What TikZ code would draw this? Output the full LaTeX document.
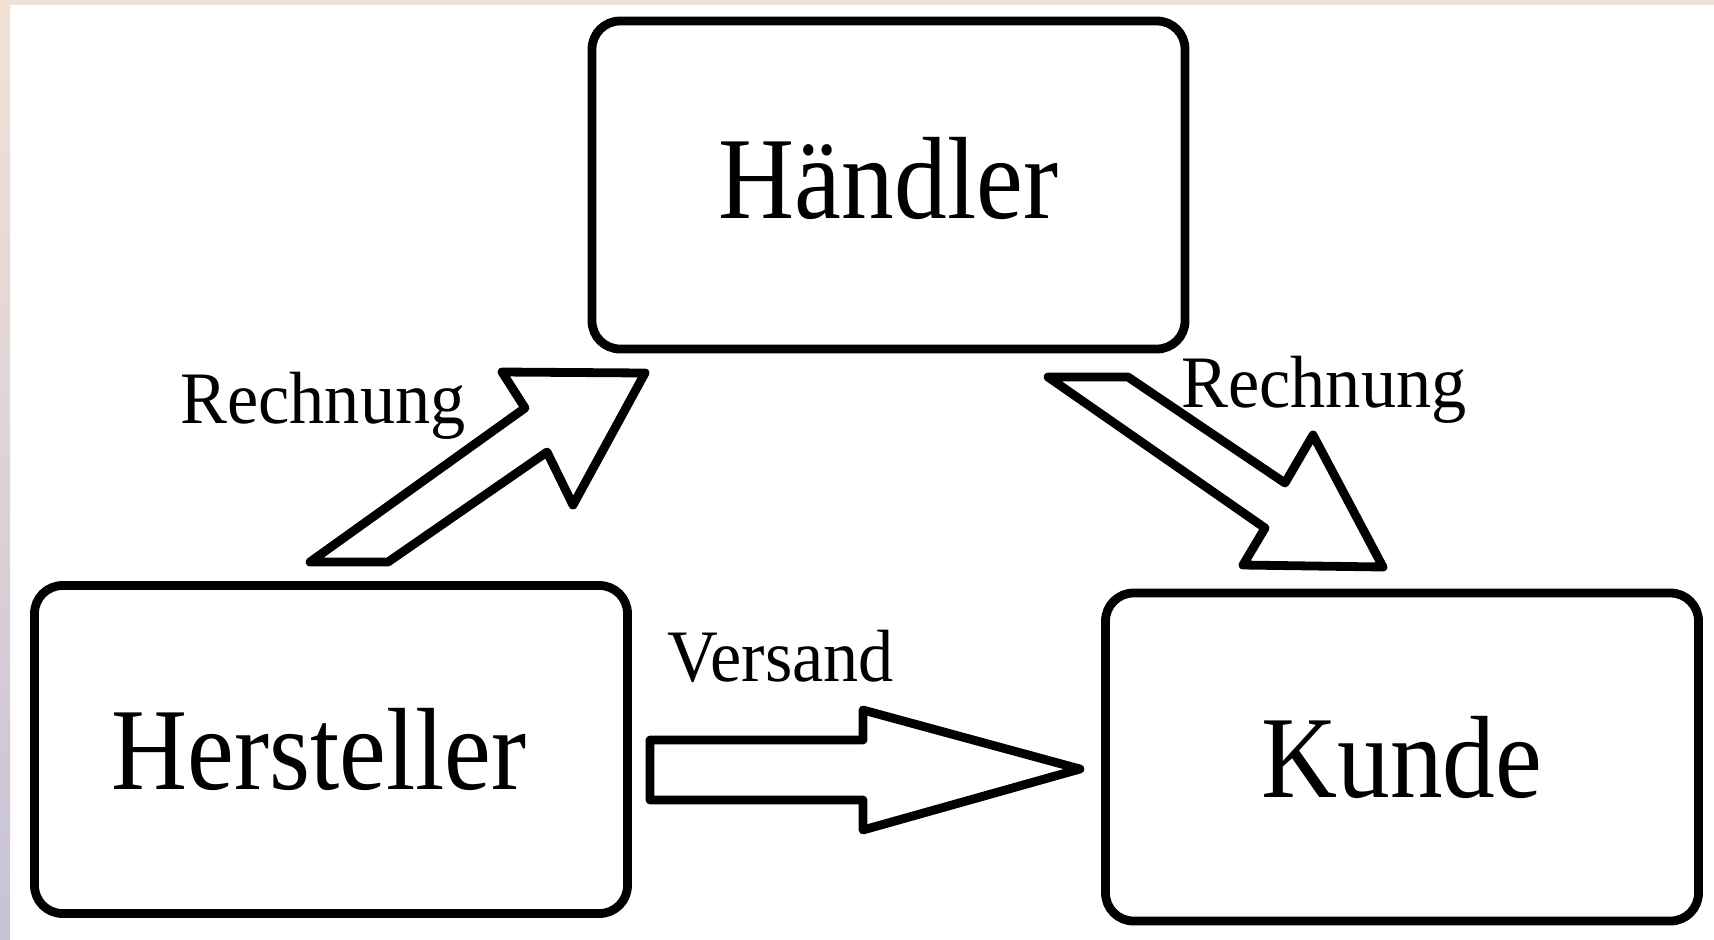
\documentclass[tikz,border=0pt]{standalone}
\usepackage{fontspec}
\setmainfont{Liberation Serif}
\newfontfamily\boxfont[FakeStretch=0.9]{Liberation Serif}
\newfontfamily\labelfont[FakeStretch=0.95]{Liberation Serif}
\definecolor{edgetop}{RGB}{242,226,214}
\definecolor{edgemid}{RGB}{226,206,198}
\definecolor{edgebot}{RGB}{200,194,214}
\tikzset{
  partybox/.style={draw, line width=4.4pt, rounded corners=14pt, minimum width=296.5pt,
    minimum height=164pt, inner sep=0pt, font=\boxfont\fontsize{58.5}{60}\selectfont},
  blockarrow/.style={draw, line width=4.4pt, line join=round, fill=white},
  flowlabel/.style={anchor=base west, inner sep=0pt, font=\labelfont\fontsize{37}{40}\selectfont}
}
\begin{document}
\begin{tikzpicture}[x=0.5pt, y=-0.5pt]
  \useasboundingbox (0,0) rectangle (1714,939);
  \fill [white] (0,0) rectangle (1714,939);
  \shade [top color=edgetop, middle color=edgemid, bottom color=edgebot] (0,0) rectangle (10,939);
  \fill [edgetop] (10,0) rectangle (1714,5);
  % the three parties
  \node [partybox, text depth=7pt] (haendler) at (888.5,185) {Händler};
  \node [partybox] (hersteller) at (331,749.5) {Hersteller\rule{12pt}{0pt}};
  \node [partybox] (kunde) at (1402,757) {Kunde};
  % block arrows
  \draw [blockarrow] (310,562) -- (525,408) -- (502,372) -- (645,373) -- (573,505) -- (547,452) -- (388,562) -- cycle;
  \draw [blockarrow] (1048,377) -- (1128,377) -- (1285,483) -- (1313,435) -- (1383,567) -- (1243,565) -- (1265,528) -- cycle;
  \draw [blockarrow] (650,740) -- (863,740) -- (863,710) -- (1080,769) -- (863,830) -- (863,800) -- (650,800) -- cycle;
  % labels
  \node [flowlabel] (rechnung1) at (180,423) {Rechnung};
  \node [flowlabel] (rechnung2) at (1181,407) {Rechnung};
  \node [flowlabel] (versand) at (667,681) {Versand};
\end{tikzpicture}
\end{document}
